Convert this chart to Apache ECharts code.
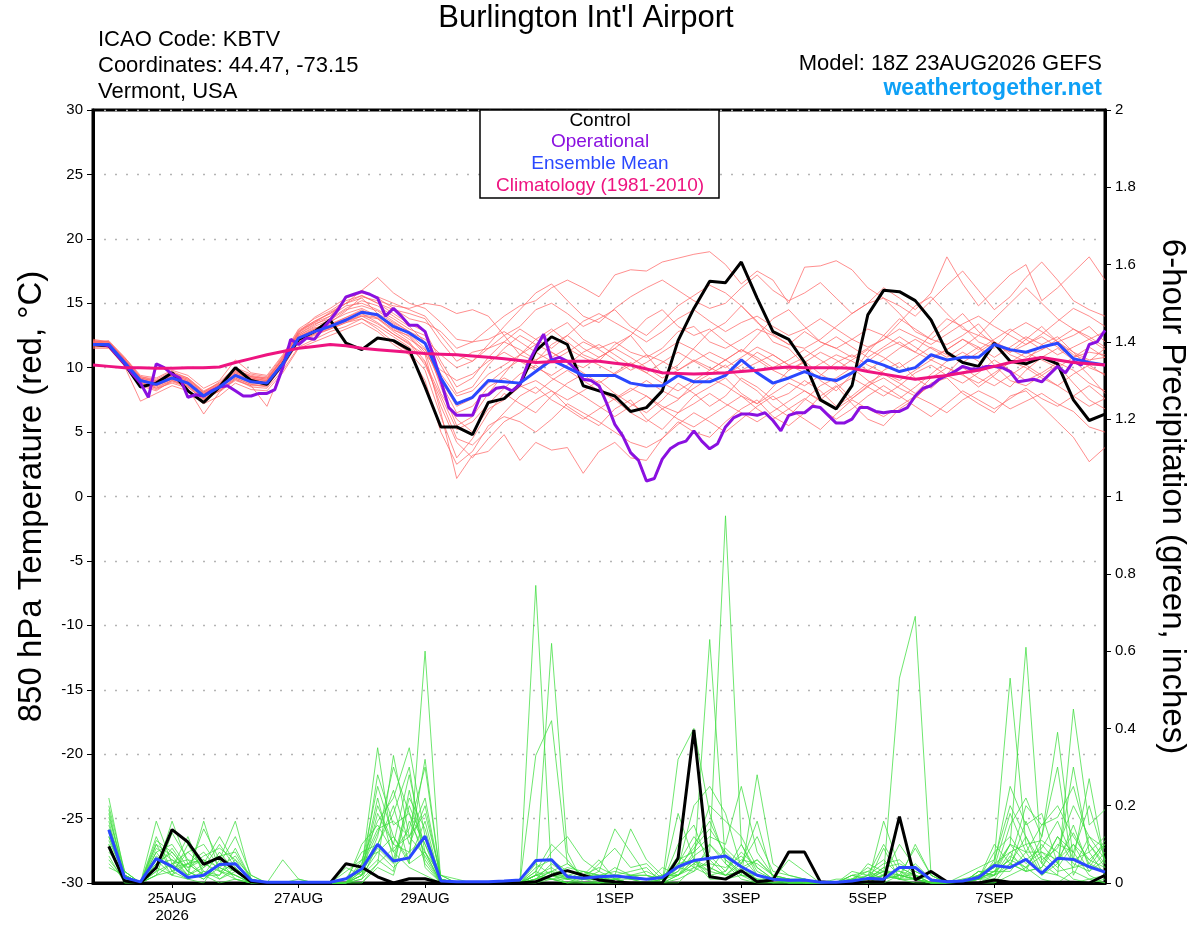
<!DOCTYPE html>
<html><head><meta charset="utf-8">
<script src="https://cdn.jsdelivr.net/npm/echarts@6/dist/echarts.min.js"></script>
<style>html,body{margin:0;padding:0;background:#fff}#c{width:1200px;height:927px}</style>
</head><body><div id="c"></div>
<script>
// x axis: 3-hourly slots from 18Z 23AUG2026 (slot index -> tick label)
const tickLabels = {10:'25AUG\n2026', 26:'27AUG', 42:'29AUG', 66:'1SEP', 82:'3SEP', 98:'5SEP', 114:'7SEP'};

// 850 hPa temperature, 6-hourly (65 values)
const control = [11.8,11.7,10.3,8.5,8.8, 9.6,8.2,7.3,8.5,10.0, 9.0,8.7,10.3,12.2,12.8, 13.7,11.9,11.4,12.3,12.1, 11.4,8.5,5.4,5.4,4.8, 7.3,7.6,8.7,11.3,12.4, 11.8,8.6,8.2,7.8,6.6, 6.9,8.2,12.1,14.6,16.7, 16.6,18.2,15.4,12.8,12.2, 10.4,7.5,6.8,8.6,14.1, 16.0,15.9,15.2,13.7,11.2, 10.4,10.1,11.9,10.5,10.3, 10.8,10.3,7.5,5.9,6.4];
// operational, 3-hourly (129 values)
const operational = [11.8,11.8,11.7,11.0,10.3,9.5,8.8,7.7,10.3,10.0, 9.5,9.2,7.7,7.9,7.8,8.2,8.5,8.6,8.2,7.8, 7.8,8.0,8.0,8.3,10.0,12.2,11.8,12.3,12.2,13.0, 13.7,14.5,15.5,15.7,15.9,15.7,15.4,14.0,14.6,14.0, 13.3,13.3,12.8,11.0,9.0,6.9,6.3,6.3,6.3,7.8, 7.9,8.4,8.5,8.2,8.7,10.3,11.5,12.6,10.6,10.8, 10.5,9.9,9.1,9.0,8.6,7.2,5.6,4.7,3.4,2.8, 1.2,1.4,2.9,3.7,4.1,4.3,5.1,4.3,3.7,4.1, 5.4,6.1,6.4,6.4,6.3,6.5,5.9,5.1,6.3,6.5, 6.5,7.0,6.9,6.3,5.7,5.7,6.0,6.9,6.9,6.6, 6.5,6.6,6.6,6.9,7.8,8.4,8.6,9.1,9.4,9.7, 10.1,9.9,9.9,10.1,10.1,10.0,9.7,8.9,9.0,9.1, 8.9,9.5,10.1,9.6,10.5,10.2,11.8,12.0,12.9];
const ensMean = [11.8,11.8,10.4,9.0,8.7, 9.2,8.8,7.8,8.5,9.4, 8.9,8.8,10.3,12.3,12.8, 13.2,13.7,14.3,14.1,13.2, 12.7,11.9,9.2,7.2,7.7, 9.0,8.9,8.8,9.7,10.6, 10.0,9.4,9.4,9.4,8.8, 8.6,8.6,9.4,8.9,8.9, 9.4,10.6,9.6,8.8,9.2, 9.7,9.2,9.0,9.6,10.6, 10.2,9.7,10.0,11.0,10.6, 10.8,10.8,11.8,11.4,11.2, 11.6,11.9,10.7,10.4,10.2];
const climatology = [10.2,10.1,10.0,10.0,9.95, 9.95,10.0,10.0,10.05,10.4, 10.7,11.0,11.25,11.5,11.65, 11.8,11.7,11.5,11.4,11.3, 11.2,11.1,11.05,11.0,10.9, 10.8,10.7,10.55,10.4,10.45, 10.5,10.5,10.5,10.35,10.2, 9.9,9.6,9.55,9.5,9.55, 9.6,9.7,9.8,9.95,10.05, 10.0,10.0,10.0,9.95,9.7, 9.5,9.3,9.1,9.25,9.4, 9.6,9.8,10.1,10.4,10.6, 10.8,10.6,10.4,10.3,10.2];

// ensemble members, temperature
const t01 = [12.0,11.9,10.6,9.2,8.9, 9.5,9.0,8.0,8.6,9.6, 9.2,9.0,10.8,12.6,13.4, 13.8,14.6,15.2,14.8,14.0, 13.2,12.0,8.5,5.5,6.2, 8.0,9.5,11.0,12.2,13.0, 12.0,11.0,10.5,11.8,12.5, 11.0,9.5,10.2,11.5,12.8, 13.5,14.8,13.6,12.0,11.5, 10.2,9.0,8.2,9.5,11.2, 12.5,13.8,13.0,12.2,11.8, 12.5,13.4,12.0,11.0,10.5, 11.8,12.4,11.2,10.0,9.5];
const t02 = [11.6,11.7,10.2,8.6,8.2, 9.0,8.5,7.5,8.2,9.0, 8.6,7.0,10.0,12.0,12.5, 13.0,13.5,14.0,13.8,12.8, 12.0,10.5,7.0,4.2,3.0, 4.5,5.8,6.5,7.5,8.2, 7.0,6.2,5.5,6.8,7.5, 6.0,5.2,6.5,7.8,8.5, 9.2,8.0,7.2,8.5,9.8, 10.5,9.5,8.8,7.6,8.5, 9.8,10.4,9.2,8.4,9.5, 10.8,11.6,10.2,9.0,8.6, 9.4,10.2,8.8,7.5,6.8];
const t03 = [12.2,12.0,10.8,9.4,9.2, 9.8,9.4,8.4,9.0,10.6, 9.6,9.4,11.0,13.0,13.8, 14.4,15.2,15.6,15.0,14.5, 14.2,13.8,12.0,10.5,11.2, 11.5,12.5,13.2,14.5,15.0, 14.2,13.2,13.8,14.5,13.2, 12.5,13.6,14.8,15.6,16.4, 15.8,14.8,13.5,12.6,11.8, 11.5,12.2,13.2,14.2,15.0, 15.4,14.2,12.8,12.2,13.2, 14.2,12.8,11.8,11.2,12.2, 13.2,12.0,11.0,10.5,11.5];
const t04 = [11.9,11.8,10.5,9.0,8.8, 9.3,8.9,7.9,8.7,9.8, 9.4,9.2,10.6,12.8,13.6, 14.2,15.0,16.0,17.0,15.8, 15.0,14.6,13.5,12.2,12.0, 13.0,14.0,14.8,15.2,16.2, 16.8,16.2,15.5,17.2,17.6, 17.5,18.2,18.5,18.8,19.0, 18.0,16.5,17.5,16.8,15.0, 17.8,17.9,18.3,17.6,16.2, 15.4,14.8,14.0,15.2,16.4, 17.5,16.0,14.5,15.5,17.0, 18.2,16.8,15.2,14.5,14.0];
const t05 = [11.8,11.6,10.3,8.8,8.5, 9.0,8.6,7.6,8.3,9.2, 8.7,8.6,10.2,12.2,12.9, 13.4,13.9,14.4,14.0,13.1, 12.4,11.0,6.5,1.4,3.2, 3.5,4.8,2.8,4.2,3.6, 3.8,1.8,3.5,4.2,3.0, 2.8,4.5,5.8,5.0,4.6, 5.8,6.8,7.5,6.2,5.5, 6.5,7.8,8.6,7.2,6.0, 5.5,6.8,7.6,8.8,9.2, 8.0,7.2,6.5,7.8,8.2, 7.0,5.8,4.6,2.7,3.8];
const t06 = [12.1,12.0,10.7,9.3,9.0, 9.6,9.2,8.2,8.8,9.9, 9.3,9.1,10.7,12.7,13.5, 14.0,14.8,15.0,14.5,13.8, 13.0,12.5,10.2,8.0,8.5, 10.2,11.5,12.5,11.8,12.8, 13.5,12.2,11.5,12.0,11.2, 10.8,11.5,12.8,13.2,12.0, 11.5,12.2,13.0,12.5,11.8, 12.8,12.0,11.5,12.2,13.0, 12.5,11.8,11.2,12.6,13.8, 13.2,12.0,11.5,12.8,13.5, 12.8,12.0,12.5,13.2,12.0];
const t07 = [11.7,11.8,10.4,9.1,8.6, 9.1,8.7,7.7,8.4,9.3, 8.8,8.7,10.3,12.2,12.7, 13.1,13.6,14.1,13.9,12.9, 12.5,11.2,8.0,6.0,5.0, 6.8,7.5,8.5,9.0,8.2, 7.5,8.2,9.0,8.0,7.2, 6.5,7.5,8.8,8.0,7.0, 7.8,9.2,8.5,7.5,8.0, 9.0,8.2,7.0,7.8,8.8, 9.5,8.8,8.0,9.2,10.0, 9.5,8.5,9.4,10.5,10.0, 9.2,8.6,9.5,10.2,9.4];
const t08 = [11.9,11.9,10.5,9.0,8.7, 9.2,8.8,7.8,8.5,9.5, 9.0,8.9,10.4,12.4,13.0, 13.5,14.4,15.5,15.2,14.8, 14.6,15.0,14.8,14.2,14.5, 14.0,12.5,11.0,10.5,11.8, 12.5,11.5,10.8,11.5,12.5, 13.8,14.5,13.2,12.5,13.0, 12.0,11.2,12.5,13.8,14.5, 13.2,12.0,11.5,10.8,11.5, 12.2,13.5,14.8,15.5,14.2, 13.0,12.5,13.8,15.0,16.2, 15.0,13.8,13.0,12.2,12.8];
const t09 = [12.0,11.7,10.3,8.9,8.4, 8.8,8.4,6.4,8.1,9.1, 8.5,8.4,9.8,11.6,12.2, 12.8,13.2,13.8,13.0,12.0, 11.2,9.8,6.2,3.0,4.5, 6.5,8.0,7.2,6.5,7.8, 8.8,9.5,8.5,7.5,6.5, 5.8,6.8,7.5,8.8,9.5, 10.2,9.0,8.2,7.0,6.2, 7.5,8.6,9.2,10.0,9.0, 8.2,7.6,8.5,9.5,10.5, 11.2,10.5,9.2,8.5,9.8, 10.8,11.5,10.6,9.4,8.0];
const t10 = [11.8,11.8,10.6,9.1,8.7, 9.4,8.9,7.9,8.6,9.5, 9.1,8.9,10.5,12.5,13.1, 13.3,13.8,14.2,13.5,12.6, 11.8,11.0,9.8,9.0,9.5, 10.5,11.2,10.5,9.8,10.8, 11.5,10.8,10.2,9.5,10.2, 11.0,10.5,9.8,10.5,11.2, 10.6,9.8,10.4,11.0,10.2, 9.6,10.3,11.0,10.5,9.8, 10.6,11.5,12.2,11.5,10.8, 11.6,12.5,12.0,11.2,11.8, 12.4,11.6,10.8,11.2,11.0];
const t11 = [11.5,11.5,10.1,7.4,8.0, 8.6,8.2,7.2,7.8,8.8, 8.3,8.2,9.6,11.5,12.0, 12.5,13.0,13.5,12.8,11.8, 11.0,9.0,5.0,2.5,3.5, 5.5,6.2,5.8,5.0,6.0, 7.2,6.5,5.8,5.0,4.2, 3.8,4.5,5.6,6.5,5.8, 5.0,6.0,7.0,7.8,6.8, 6.0,5.2,6.4,7.5,6.8, 6.2,7.0,7.8,7.2,6.5, 7.5,8.2,7.6,6.8,7.4, 8.0,7.2,6.6,5.4,5.0];
const t12 = [12.0,12.1,10.8,9.3,9.1, 9.7,9.2,8.1,8.9,10.0, 9.5,9.3,10.9,12.9,13.6, 14.2,15.0,15.4,14.2,13.5, 12.8,12.2,11.0,10.0,10.5, 11.5,12.0,11.4,10.6,11.2, 10.4,9.6,8.8,9.6,10.4, 9.6,8.8,8.2,9.0,9.8, 10.6,11.4,10.6,9.8,9.2, 8.6,9.4,10.4,11.0,10.2, 9.6,9.0,9.8,10.6,10.0, 9.4,8.8,9.6,10.4,11.2, 10.6,10.0,10.8,11.6,10.8];
const t13 = [11.9,11.8,10.4,9.0,8.6, 9.2,8.8,7.8,8.5,9.4, 8.9,8.8,10.4,12.4,13.0, 13.6,14.2,14.6,14.0,13.4, 12.6,11.5,8.8,6.5,7.0, 8.5,9.2,8.6,8.0,9.0, 9.8,9.0,8.2,7.5,8.2, 9.0,8.2,7.6,8.4,9.2, 8.6,7.8,7.2,8.0,8.8, 8.2,7.5,8.5,9.2,8.5, 7.8,8.6,9.6,10.2,9.4, 8.8,9.6,10.6,9.8,9.0, 9.6,10.4,9.8,8.8,8.2];
const t14 = [12.1,12.0,10.6,9.2,9.0, 9.5,9.1,8.1,8.8,9.8, 9.3,9.1,10.7,12.7,13.9, 14.6,15.4,15.8,15.5,15.0, 14.5,14.0,12.5,11.0,10.5, 11.8,13.2,14.5,15.8,16.5, 15.2,14.0,13.5,14.6,15.5, 16.2,16.8,16.0,15.2,14.6, 15.0,16.2,17.2,16.0,15.2, 15.8,16.6,15.4,14.2,15.0, 16.2,15.4,14.5,15.8,18.6, 16.5,14.8,16.0,17.2,18.0, 15.2,16.2,17.4,18.6,16.8];
const t15 = [11.7,11.6,10.2,8.7,8.3, 8.9,8.5,7.5,8.2,9.1, 8.6,8.6,10.1,12.1,12.6, 13.0,13.5,13.8,13.2,12.4, 11.6,10.4,7.8,5.2,5.8, 7.2,8.4,9.5,10.2,9.2, 8.5,7.8,7.0,6.2,7.0, 7.8,6.8,6.0,5.4,6.2, 7.0,7.8,6.8,6.0,6.8, 7.6,6.8,6.0,6.8,7.8, 8.6,7.8,7.0,6.2,7.2, 8.2,7.5,6.8,7.6,8.4, 7.6,7.0,7.8,8.6,7.6];
const t16 = [11.8,11.9,10.5,9.1,8.8, 9.3,8.9,7.9,8.6,9.6, 9.1,9.0,10.5,12.5,13.2, 13.7,14.5,14.8,14.4,13.6, 12.8,11.8,9.5,7.8,8.2, 9.5,10.2,11.0,11.8,11.2, 10.5,10.0,10.8,11.5,10.8, 10.0,9.2,9.8,10.6,10.0, 9.4,10.2,11.2,10.5,9.8, 10.4,11.2,10.6,9.8,10.5, 11.4,12.0,11.2,10.6,11.4, 12.2,11.6,10.8,11.6,12.4, 11.8,11.0,11.6,12.2,11.4];
const t17 = [12.0,11.9,10.7,9.2,8.9, 9.6,9.1,8.1,8.7,9.7, 9.3,9.2,10.8,12.8,13.5, 14.3,15.0,15.6,15.0,14.2, 13.4,12.8,10.5,8.5,9.2, 10.8,12.0,13.0,12.2,11.5, 12.5,13.6,14.2,13.5,12.8, 12.0,12.8,13.8,14.5,13.6, 12.8,13.5,14.0,13.2,12.5, 13.0,13.8,13.0,12.2,11.6, 12.2,13.0,12.4,11.8,12.6, 13.4,14.0,13.2,12.5,11.8, 12.6,13.6,14.6,14.0,13.2];
const t18 = [11.6,11.6,10.3,8.8,8.4, 9.0,8.6,7.6,8.2,9.2, 8.7,8.5,10.1,12.0,12.6, 13.1,13.6,14.0,13.4,12.6, 11.9,10.2,7.5,4.5,4.0, 5.2,6.5,7.8,8.5,7.5, 6.8,6.0,6.8,7.6,8.4, 7.8,7.0,6.5,7.2,8.0, 7.2,6.5,5.8,6.6,7.4, 8.2,7.4,6.8,7.6,8.6, 9.2,8.4,7.8,8.6,9.4, 10.0,9.2,8.6,9.4,10.2, 9.4,8.6,7.8,7.0,7.6];
const t19 = [11.9,11.8,10.5,8.9,8.6, 9.1,8.7,7.7,8.5,9.4, 8.9,8.8,10.3,12.3,12.9, 13.3,13.9,14.5,13.8,13.0, 12.2,11.4,9.0,7.0,7.6, 8.8,9.8,10.6,10.0,9.4, 10.2,11.2,11.8,11.0,10.2, 9.6,10.4,11.2,10.5,9.8, 10.6,11.4,10.8,10.0,10.6, 11.4,10.6,9.8,10.6,11.4, 10.8,10.0,10.8,11.6,11.0, 10.4,11.2,12.0,11.4,10.8, 11.4,12.0,11.2,10.6,10.8];
const t20 = [12.0,12.0,10.6,9.1,8.8, 9.4,9.0,8.0,8.7,9.7, 9.2,9.0,10.6,12.6,13.3, 14.0,15.4,16.0,15.4,14.6, 13.8,13.5,12.8,11.5,12.0, 12.2,12.8,12.0,11.2,10.5, 11.2,12.0,11.4,10.6,9.8, 10.4,11.2,12.0,11.4,10.6, 10.0,10.8,11.6,11.0,10.2, 10.8,11.6,12.4,11.6,10.8, 11.6,12.4,11.6,10.8,11.4, 12.2,11.4,12.2,13.0,12.2, 11.4,12.2,13.0,12.4,11.6];
const tempMembers = [t01,t02,t03,t04,t05,t06,t07,t08,t09,t10,t11,t12,t13,t14,t15,t16,t17,t18,t19,t20];

// 6-hour precipitation (inches), 6-hourly, first slot has no accumulation
const ctrlPrecip = [null,0.095,0.005,0,0.04, 0.138,0.106,0.048,0.066,0.033, 0.003,0,0,0,0, 0,0.05,0.041,0.016,0, 0.011,0.011,0,0,0, 0,0,0,0.003,0.02, 0.032,0.02,0.008,0.003,0, 0,0,0.064,0.396,0.016, 0.01,0.032,0.003,0.008,0.08, 0.08,0.003,0,0,0.003, 0.003,0.172,0.008,0.03,0.003, 0,0,0.008,0.002,0.002, 0.002,0.002,0.002,0,0.02];
const meanPrecip = [null,0.138,0.014,0.003,0.063, 0.043,0.014,0.02,0.048,0.05, 0.007,0.002,0.002,0.002,0.002, 0.002,0.011,0.037,0.1,0.057, 0.065,0.121,0.005,0.003,0.003, 0.003,0.005,0.008,0.058,0.06, 0.016,0.012,0.016,0.018,0.014, 0.01,0.014,0.042,0.058,0.064, 0.07,0.042,0.02,0.01,0.007, 0.008,0.002,0.002,0.005,0.012, 0.01,0.04,0.04,0.008,0.003, 0.005,0.014,0.045,0.04,0.061, 0.025,0.064,0.061,0.042,0.028];
const p01 = [null,0.22,0.02,0,0.05, 0.08,0.03,0.01,0.04,0.02, 0,0,0,0,0, 0,0,0.02,0.08,0.12, 0.05,0.6,0,0,0, 0,0,0,0.02,0.01, 0,0,0,0.01,0, 0,0,0.02,0.05,0.08, 0.95,0.1,0.02,0,0, 0,0,0,0,0, 0.02,0.01,0,0,0, 0,0,0,0.05,0.12, 0.03,0.02,0,0.01,0];
const p02 = [null,0.18,0.01,0,0.12, 0.03,0.01,0,0.06,0.16, 0.01,0,0,0,0, 0,0,0.04,0.35,0.08, 0.04,0.02,0,0,0, 0,0,0,0.77,0.02, 0,0,0,0,0, 0,0,0,0.04,0.63, 0.05,0.01,0,0,0, 0,0,0,0,0.01, 0.02,0.53,0.69,0.02,0, 0,0,0,0.02,0.04, 0.01,0,0.03,0.01,0.02];
const p03 = [null,0.12,0.01,0,0.03, 0.16,0.05,0.02,0,0.01, 0,0,0,0,0, 0,0,0.02,0.12,0.3, 0.18,0.1,0,0,0, 0,0,0,0.02,0.62, 0.08,0,0,0.01,0, 0,0,0.32,0.4,0.18, 0.06,0.02,0,0,0.01, 0,0,0,0,0, 0,0.02,0.01,0,0, 0,0,0.06,0.53,0.1, 0.02,0.05,0.01,0,0.01];
const p04 = [null,0.08,0.03,0,0.16, 0.05,0.02,0.16,0.03,0.01, 0,0,0.06,0.01,0, 0,0,0,0.05,0.33, 0.12,0.22,0.01,0,0, 0,0,0,0,0.02, 0.04,0.03,0.02,0,0, 0,0,0.06,0.08,0.12, 0.1,0.25,0.08,0.02,0.01, 0,0,0,0,0, 0.16,0.04,0.02,0,0, 0,0.03,0.02,0.1,0.61, 0.05,0.12,0.08,0.02,0];
const p05 = [null,0.15,0.02,0,0.06, 0.04,0.12,0.02,0.08,0.03, 0,0,0,0,0, 0,0.01,0.03,0.2,0.1, 0.28,0.08,0,0,0, 0,0,0,0.33,0.42, 0.05,0.02,0,0,0, 0,0.01,0.03,0.1,0.16, 0.07,0.02,0.28,0.05,0.02, 0.01,0,0,0.01,0.02, 0.05,0.06,0.02,0,0, 0.01,0.02,0.05,0.25,0.15, 0.18,0.05,0.3,0.08,0.02];
const p06 = [null,0.1,0,0,0.02, 0.03,0.08,0.1,0.04,0.02, 0,0,0,0,0, 0,0,0.06,0.16,0.22, 0.35,0.12,0.02,0,0, 0,0,0,0.02,0.08, 0.12,0.06,0.03,0.14,0.08, 0.02,0.01,0.05,0.06,0.04, 0.02,0.05,0.12,0.03,0.02, 0.01,0,0,0.02,0.01, 0.03,0.02,0.01,0,0, 0,0.02,0.02,0.08,0.03, 0.12,0.39,0.06,0.27,0.05];
const p07 = [null,0.2,0.03,0,0.1, 0.07,0.02,0.05,0.12,0.05, 0.01,0,0,0,0, 0,0,0.1,0.15,0.08, 0.14,0.3,0.01,0,0, 0,0,0,0.01,0.05, 0.02,0.03,0.02,0.02,0.14, 0.06,0.02,0.02,0.08,0.2, 0.16,0.12,0.04,0.01,0, 0,0,0,0,0.02, 0.1,0.03,0.01,0,0, 0.02,0.04,0.06,0.2,0.12, 0.05,0.02,0.45,0.15,0.19];
const p08 = [null,0.06,0.01,0,0.04, 0.02,0.01,0.03,0.02,0.06, 0.02,0,0,0,0, 0,0.04,0.02,0.06,0.03, 0.24,0.06,0,0,0, 0,0,0,0,0.01, 0,0.02,0.06,0.01,0, 0,0.04,0.02,0.06,0.02, 0.03,0.1,0.03,0.01,0, 0,0,0,0,0.05, 0.03,0.01,0.1,0.02,0, 0,0.02,0.04,0.1,0.05, 0.08,0.06,0.13,0.05,0.03];
const p09 = [null,0.14,0.02,0,0.08, 0.1,0.04,0.06,0.01,0.03, 0,0,0,0,0, 0,0,0,0.04,0.02, 0.16,0.08,0.02,0.01,0, 0,0,0,0.05,0.02, 0.01,0,0,0.02,0.03, 0.04,0,0.1,0.15,0.04, 0.02,0.06,0.05,0.02,0.01, 0,0,0,0,0, 0.02,0.1,0.04,0.01,0, 0,0.01,0.03,0.06,0.2, 0.15,0.17,0.25,0.1,0.04];
const p10 = [null,0.1,0.01,0,0.02, 0.13,0.06,0.02,0.02,0.09, 0.01,0,0,0,0, 0,0,0.05,0.25,0.12, 0.06,0.16,0,0,0, 0,0,0,0.03,0.1, 0.06,0.01,0.05,0.09,0.04, 0.05,0.01,0.07,0.04,0.02, 0.01,0.04,0.06,0.02,0, 0.01,0,0.01,0.01,0.03, 0.01,0.02,0.09,0.02,0, 0,0.01,0.1,0.05,0.03, 0.04,0.1,0.08,0.2,0.06];
const p11 = [null,0.09,0,0,0.11, 0.08,0.03,0.14,0.06,0.01, 0,0,0,0,0, 0,0,0.03,0.09,0.05, 0.2,0.1,0.01,0,0, 0,0,0,0.01,0.03, 0.05,0.02,0.01,0.04,0.02, 0.02,0,0.18,0.06,0.01, 0.01,0.02,0.01,0.01,0.06, 0.03,0,0,0.02,0.01, 0.04,0.01,0.03,0.01,0, 0,0.03,0.02,0.15,0.22, 0.12,0.3,0.02,0.1,0.05];
const p12 = [null,0.16,0.01,0,0.03, 0.05,0.08,0.04,0.1,0.04, 0,0,0,0.01,0, 0,0,0.02,0.28,0.15, 0.18,0.05,0,0,0, 0,0,0,0.02,0.04, 0.01,0.03,0.01,0.01,0.01, 0,0.01,0.04,0.2,0.25, 0.18,0.04,0.01,0,0, 0,0,0,0,0, 0.01,0.02,0.01,0,0, 0,0.01,0.03,0.03,0.08, 0.08,0.04,0.1,0.03,0.08];
const p13 = [null,0.11,0.02,0,0.06, 0.02,0.05,0.08,0.03,0.02, 0,0,0,0,0, 0,0.01,0.08,0.1,0.18, 0.3,0.04,0,0,0, 0,0,0,0.01,0.02, 0.02,0.01,0.01,0.02,0.01, 0.01,0.02,0.04,0.03,0.1, 0.06,0.03,0.02,0.01,0.01, 0,0,0,0.03,0.02, 0.01,0.04,0.02,0.01,0, 0.01,0.01,0.01,0.07,0.04, 0.1,0.05,0.15,0.04,0.1];
const p14 = [null,0.05,0.01,0,0.02, 0.05,0.06,0.05,0.03,0.05, 0.01,0,0,0,0, 0,0,0.01,0.05,0.09, 0.12,0.07,0,0,0, 0,0,0,0.02,0.01, 0.01,0.01,0,0.01,0, 0,0,0.02,0.05,0.03, 0.09,0.05,0.16,0.01,0, 0,0,0,0.01,0, 0.09,0.01,0.01,0,0, 0,0.02,0.05,0.08,0.1, 0.11,0.08,0.04,0.12,0.09];
const p15 = [null,0.13,0.02,0,0.07, 0.04,0.05,0.02,0.05,0.12, 0.02,0,0,0,0, 0,0,0.04,0.13,0.24, 0.1,0.2,0.01,0,0, 0,0,0,0.04,0.06, 0.03,0.02,0.02,0.03,0.02, 0.02,0.01,0.05,0.12,0.07, 0.03,0.08,0.04,0.01,0.01, 0,0,0,0,0.01, 0.03,0.03,0.02,0,0, 0,0.01,0.08,0.12,0.06, 0.09,0.16,0.06,0.08,0.12];
const p16 = [null,0.07,0,0,0.08, 0.02,0.1,0.03,0.01,0.04, 0,0,0,0,0, 0,0.03,0.06,0.08,0.04, 0.08,0.32,0.01,0,0, 0,0,0,0.03,0.01, 0.02,0.01,0.03,0.01,0.02, 0.01,0.02,0.02,0.04,0.05, 0.04,0.07,0.02,0.01,0.01, 0,0,0,0.02,0.03, 0.06,0.02,0.02,0,0, 0,0.02,0.04,0.18,0.08, 0.02,0.06,0.1,0.06,0.04];
const p17 = [null,0.19,0.01,0,0.09, 0.06,0.04,0.07,0.09,0.06, 0,0,0,0,0, 0,0,0.03,0.22,0.06, 0.22,0.14,0,0,0, 0,0,0,0.01,0.03, 0.01,0.02,0.04,0.02,0.01, 0,0.01,0.03,0.07,0.1, 0.05,0.02,0.02,0.01,0, 0,0,0,0,0.01, 0.02,0.01,0.05,0.01,0, 0,0.01,0.02,0.04,0.16, 0.06,0.09,0.2,0.12,0.06];
const p18 = [null,0.04,0.02,0,0.05, 0.06,0.02,0.04,0.07,0.08, 0.01,0,0,0,0, 0,0,0.02,0.18,0.1, 0.08,0.12,0,0,0, 0,0,0,0,0.02, 0.01,0.02,0.01,0.01,0.02, 0.03,0.01,0.02,0.06,0.03, 0.02,0.03,0.06,0.02,0.01, 0.01,0,0,0.01,0.04, 0.02,0.01,0.01,0,0, 0,0.03,0.03,0.06,0.04, 0.07,0.03,0.04,0.05,0.11];
const p19 = [null,0.17,0.03,0,0.04, 0.09,0.03,0.01,0.05,0.03, 0,0,0,0,0, 0,0,0.01,0.1,0.2, 0.05,0.08,0,0,0, 0,0,0,0.01,0.01, 0,0.01,0.02,0,0, 0,0,0.01,0.03,0.06, 0.02,0.03,0.01,0,0, 0,0,0,0,0.02, 0.03,0.02,0.01,0,0, 0,0,0.02,0.05,0.03, 0.04,0.12,0.05,0.03,0.06];
const p20 = [null,0.12,0.02,0,0.1, 0.03,0.05,0.06,0.04,0.07, 0.01,0,0,0,0, 0,0,0.05,0.14,0.16, 0.12,0.18,0.02,0,0, 0,0,0,0.02,0.03, 0.02,0.01,0.01,0.02,0.01, 0.01,0,0.04,0.09,0.14, 0.08,0.04,0.02,0.01,0, 0,0,0,0.01,0.01, 0.04,0.05,0.03,0.01,0, 0,0.01,0.03,0.1,0.08, 0.15,0.2,0.12,0.06,0.1];
const precipMembers = [p01,p02,p03,p04,p05,p06,p07,p08,p09,p10,p11,p12,p13,p14,p15,p16,p17,p18,p19,p20];

// ---- build chart ----
const FONT = "'Liberation Sans', Arial, Helvetica, sans-serif";
const slots = Array.from({length: 129}, (_, k) => 'h' + (k * 3));
function sixToThree(a) { const r = []; a.forEach((v, i) => { r.push(v); if (i < a.length - 1) r.push(null); }); return r; }
const isTick = (idx) => tickLabels[idx] !== undefined;

const series = [];
precipMembers.forEach((m, j) => series.push({
  type: 'line', name: 'precip member ' + (j + 1), yAxisIndex: 1, data: sixToThree(m), connectNulls: true,
  symbol: 'none', silent: true, lineStyle: { color: '#3ede3e', width: 0.75 }, z: 2
}));
tempMembers.forEach((m, j) => series.push({
  type: 'line', name: 'member ' + (j + 1), yAxisIndex: 0, data: sixToThree(m), connectNulls: true,
  symbol: 'none', silent: true, lineStyle: { color: '#ff6868', width: 0.75 }, z: 2
}));
series.push({ type: 'line', name: 'Control precip', yAxisIndex: 1, data: sixToThree(ctrlPrecip), connectNulls: true, symbol: 'none', lineStyle: { color: '#000', width: 3 }, z: 4 });
series.push({ type: 'line', name: 'Mean precip', yAxisIndex: 1, data: sixToThree(meanPrecip), connectNulls: true, symbol: 'none', lineStyle: { color: '#2a48ff', width: 3 }, z: 5 });
series.push({ type: 'line', name: 'Control', yAxisIndex: 0, data: sixToThree(control), connectNulls: true, symbol: 'none', lineStyle: { color: '#000', width: 3 }, z: 4 });
series.push({ type: 'line', name: 'Operational', yAxisIndex: 0, data: operational, connectNulls: true, symbol: 'none', lineStyle: { color: '#8a10e0', width: 3 }, z: 5 });
series.push({ type: 'line', name: 'Ensemble Mean', yAxisIndex: 0, data: sixToThree(ensMean), connectNulls: true, symbol: 'none', lineStyle: { color: '#2a48ff', width: 3 }, z: 6 });
series.push({ type: 'line', name: 'Climatology', yAxisIndex: 0, data: sixToThree(climatology), connectNulls: true, symbol: 'none', lineStyle: { color: '#ee1480', width: 3 }, z: 7 });

function txt(text, x, y, size, color, align, weight) {
  return { type: 'text', x: x, y: y, z: 100,
    style: { text: text, fill: color, fontFamily: FONT, fontSize: size, fontWeight: weight || 'normal',
      align: align, verticalAlign: 'middle', textAlign: align, textVerticalAlign: 'middle' } };
}

const option = {
  animation: false,
  backgroundColor: '#fff',
  textStyle: { fontFamily: FONT },
  grid: { left: 93, right: 95, top: 110, bottom: 44, containLabel: false, outerBoundsMode: 'none',
    show: true, borderColor: '#000', borderWidth: 3, backgroundColor: 'transparent' },
  xAxis: {
    type: 'category', data: slots, boundaryGap: false,
    axisLine: { show: true, onZero: false, lineStyle: { color: '#000', width: 3 } },
    axisTick: { show: true, interval: (idx) => isTick(idx), length: 5, lineStyle: { color: '#000', width: 1 } },
    axisLabel: { interval: (idx) => isTick(idx), formatter: (v, idx) => tickLabels[idx] || '',
      color: '#000', fontSize: 15, lineHeight: 17, margin: 7, fontFamily: FONT },
    splitLine: { show: false }
  },
  yAxis: [
    { type: 'value', position: 'left', min: -30, max: 30, interval: 5,
      axisLine: { show: true, lineStyle: { color: '#000', width: 3 } },
      axisTick: { show: true, length: 6, lineStyle: { color: '#000', width: 1 } },
      axisLabel: { color: '#000', fontSize: 15, margin: 10, fontFamily: FONT },
      splitLine: { show: true, lineStyle: { color: '#b4b4b4', width: 1.3, type: [2, 9] } },
      name: '850 hPa Temperature (red, °C)', nameLocation: 'middle', nameGap: 45, nameRotate: 90,
      nameMoveOverlap: false,
      nameTextStyle: { color: '#000', fontSize: 33, fontFamily: FONT } },
    { type: 'value', position: 'right', min: 0, max: 2, interval: 0.2,
      axisLine: { show: true, lineStyle: { color: '#000', width: 3 } },
      axisTick: { show: true, length: 6, lineStyle: { color: '#000', width: 1 } },
      axisLabel: { color: '#000', fontSize: 15, margin: 10, fontFamily: FONT },
      splitLine: { show: false },
      name: '6-hour Precipitation (green, inches)', nameLocation: 'middle', nameGap: 51, nameRotate: -90,
      nameMoveOverlap: false,
      nameTextStyle: { color: '#000', fontSize: 33, fontFamily: FONT } }
  ],
  graphic: [
    txt("Burlington Int'l Airport", 586, 18, 31, '#000', 'center'),
    txt('ICAO Code: KBTV', 98, 40, 22, '#000', 'left'),
    txt('Coordinates: 44.47, -73.15', 98, 66, 22, '#000', 'left'),
    txt('Vermont, USA', 98, 92, 22, '#000', 'left'),
    txt('Model: 18Z 23AUG2026 GEFS', 1102, 64, 22, '#000', 'right'),
    txt('weathertogether.net', 1102, 89, 23, '#0ea0f6', 'right', 'bold'),
    { type: 'rect', z: 99, shape: { x: 480, y: 110, width: 239, height: 88 },
      style: { fill: '#fff', stroke: '#000', lineWidth: 1.5 } },
    txt('Control', 600, 121, 19, '#000', 'center'),
    txt('Operational', 600, 142, 19, '#8a10e0', 'center'),
    txt('Ensemble Mean', 600, 164, 19, '#2a48ff', 'center'),
    txt('Climatology (1981-2010)', 600, 186, 19, '#ee1480', 'center')
  ],
  series: series
};
const chart = echarts.init(document.getElementById('c'), null, { renderer: 'canvas' });
chart.setOption(option);
</script></body></html>
